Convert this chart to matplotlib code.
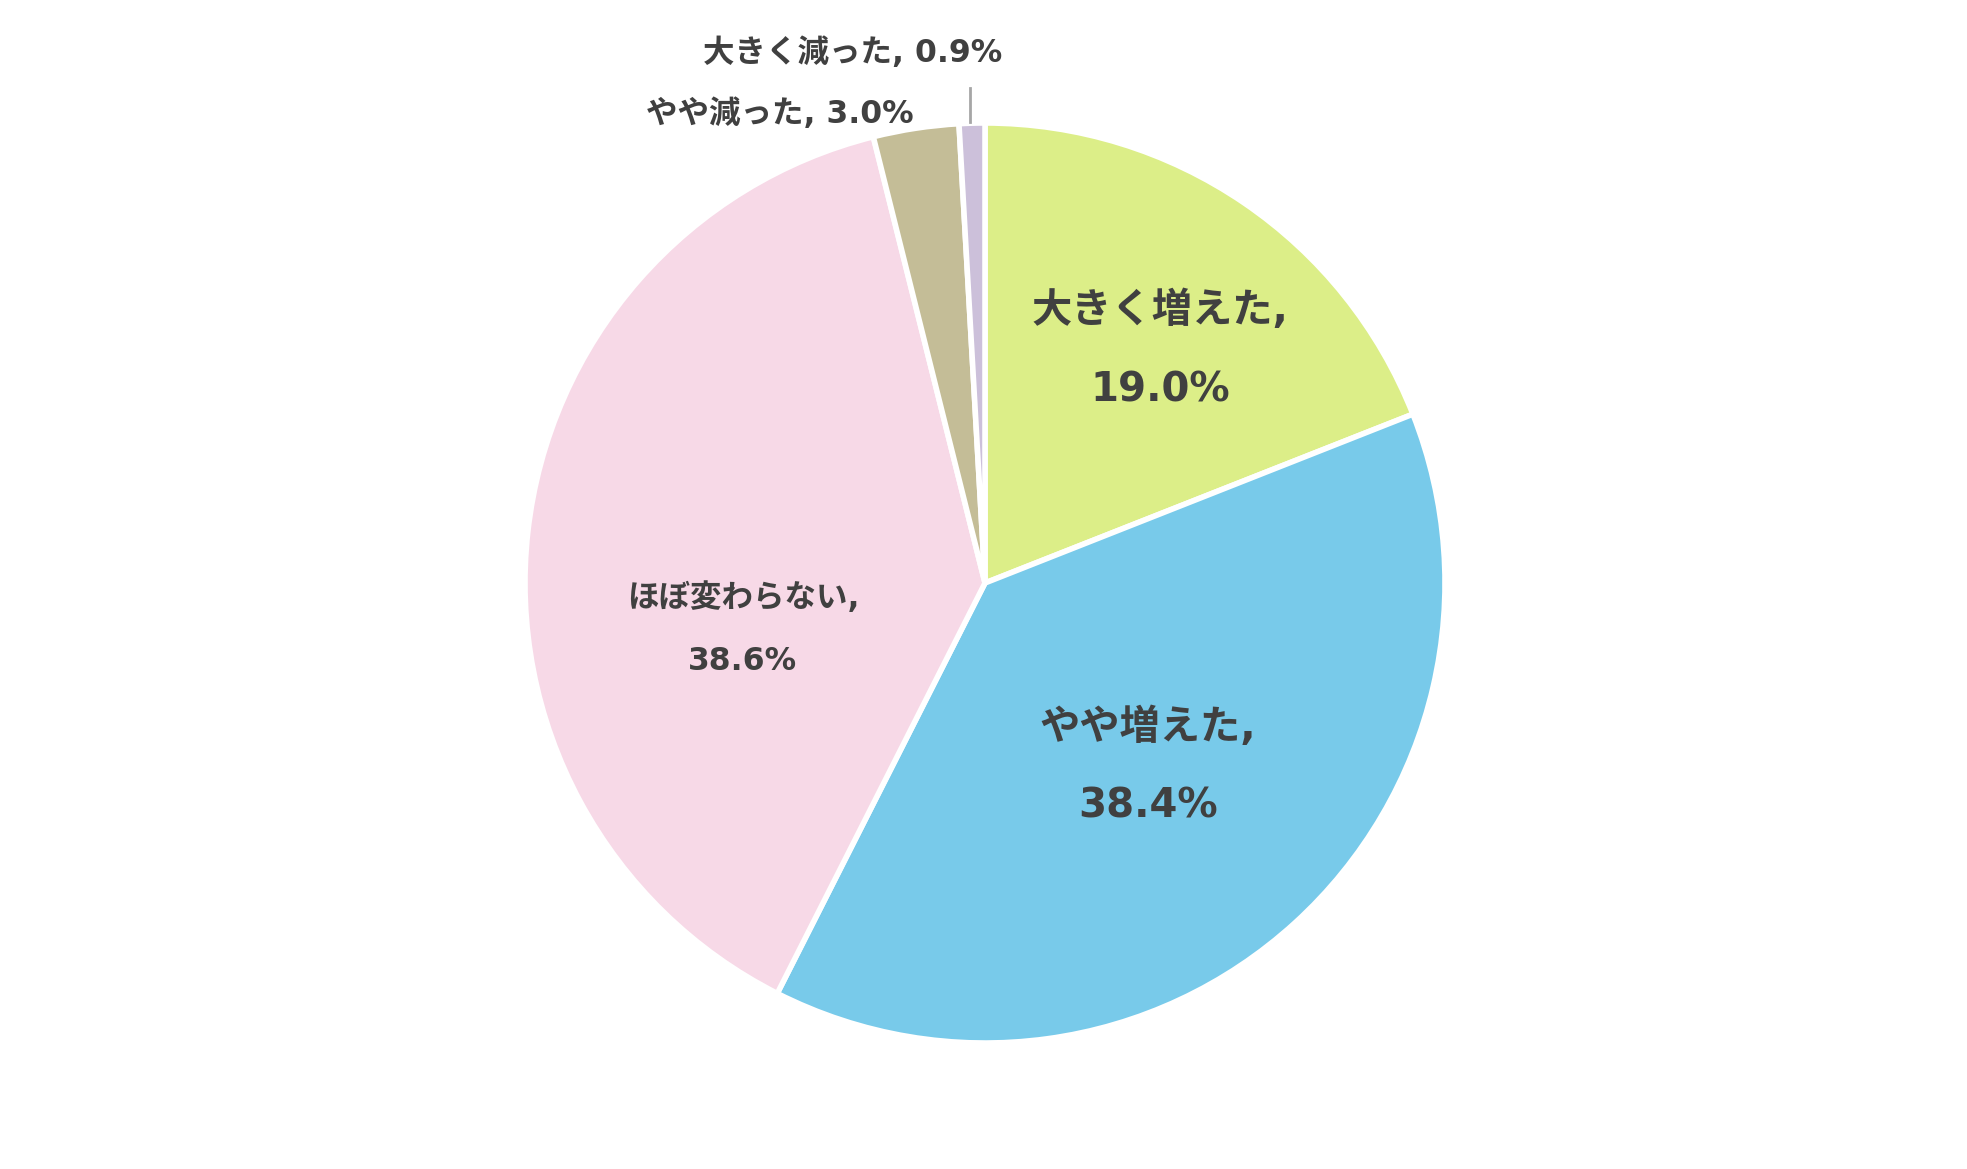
import matplotlib.pyplot as plt

plt.rcParams["font.family"] = ["DejaVu Sans", "Noto Sans CJK JP"]

categories = ["大きく増えた", "やや増えた", "ほぼ変わらない", "やや減った", "大きく減った"]
shares = [19.0, 38.4, 38.6, 3.0, 0.9]
colors = ["#DCEE88", "#78CAEA", "#F7D9E7", "#C4BD97", "#CCC0DA"]

W, H = 1967, 1169
cx, cy, r = 985, 583, 460

fig = plt.figure(figsize=(W / 100, H / 100), dpi=100)
ax = fig.add_axes([(cx - r) / W, (H - cy - r) / H, 2 * r / W, 2 * r / H])
ax.pie(shares, colors=colors, startangle=90, counterclock=False, radius=1,
       wedgeprops=dict(edgecolor="white", linewidth=4))
ax.set_xlim(-1, 1)
ax.set_ylim(-1, 1)
ax.axis("off")

txt = "#404040"


def pos(px, py):
    return (px - cx) / r, (cy - py) / r


# two-line labels inside the big slices: (name pos, value pos, size)
inner = {
    0: ((1160, 311), (1160, 390), 29),
    1: ((1148, 728), (1148, 807), 29),
    2: ((743, 598), (743, 661), 22.7),
}
for i, (p1, p2, fs) in inner.items():
    ax.text(*pos(*p1), categories[i] + ",", ha="center", va="center",
            fontsize=fs, fontweight="bold", color=txt)
    ax.text(*pos(*p2), f"{shares[i]:.1f}%", ha="center", va="center",
            fontsize=fs, fontweight="bold", color=txt)

# small slices outside
ax.text(*pos(780, 114), f"{categories[3]}, {shares[3]:.1f}%", ha="center", va="center",
        fontsize=22.7, fontweight="bold", color=txt)
ax.text(*pos(853, 53), f"{categories[4]}, {shares[4]:.1f}%", ha="center", va="center",
        fontsize=22.7, fontweight="bold", color=txt)
x0, y0 = pos(970, 88)
x1, y1 = pos(970, 122)
ax.plot([x0, x1], [y0, y1], color="#A6A6A6", lw=2, clip_on=False)

fig.savefig("out.png", dpi=100)
